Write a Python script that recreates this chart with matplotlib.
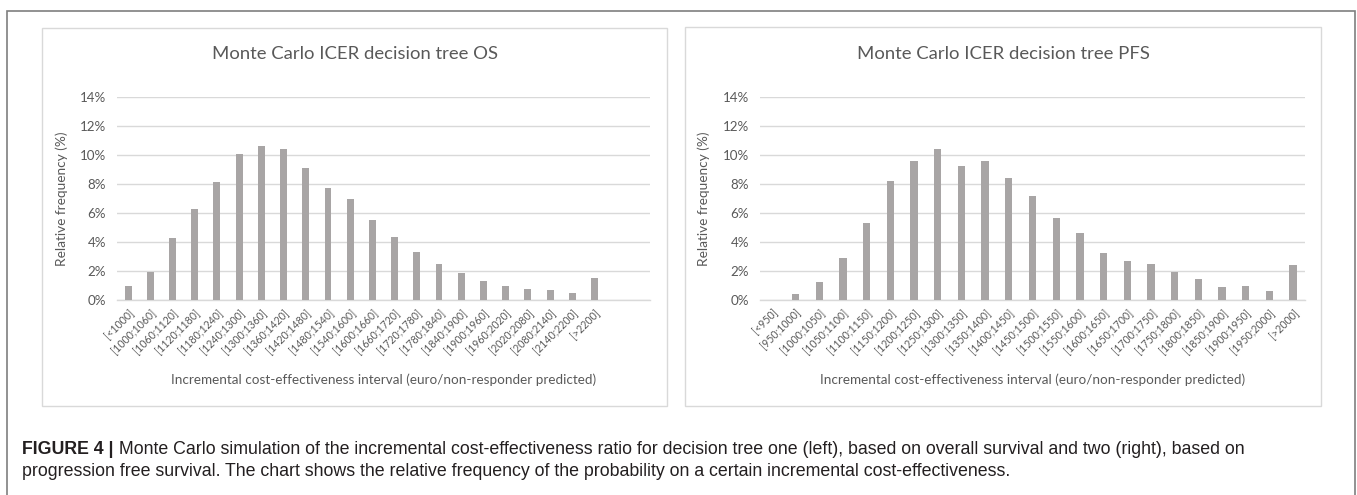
import numpy as np
import matplotlib.pyplot as plt
from matplotlib.patches import Rectangle
from matplotlib import font_manager

# --- data (relative frequency, %) ---
os_bins = ['[<1000]', '[1000;1060]', '[1060;1120]', '[1120;1180]', '[1180;1240]',
           '[1240;1300]', '[1300;1360]', '[1360;1420]', '[1420;1480]', '[1480;1540]',
           '[1540;1600]', '[1600;1660]', '[1660;1720]', '[1720;1780]', '[1780;1840]',
           '[1840;1900]', '[1900;1960]', '[1960;2020]', '[2020;2080]', '[2080;2140]',
           '[2140;2200]', '[>2200]']
os_freq = [0.97, 1.95, 4.3, 6.3, 8.16, 10.1, 10.65, 10.4, 9.1, 7.7, 6.95,
           5.5, 4.35, 3.3, 2.5, 1.85, 1.32, 0.97, 0.78, 0.72, 0.46, 1.5]

pfs_bins = ['[<950]', '[950;1000]', '[1000;1050]', '[1050;1100]', '[1100;1150]',
            '[1150;1200]', '[1200;1250]', '[1250;1300]', '[1300;1350]', '[1350;1400]',
            '[1400;1450]', '[1450;1500]', '[1500;1550]', '[1550;1600]', '[1600;1650]',
            '[1650;1700]', '[1700;1750]', '[1750;1800]', '[1800;1850]', '[1850;1900]',
            '[1900;1950]', '[1950;2000]', '[>2000]']
pfs_freq = [0.0, 0.4, 1.27, 2.92, 5.28, 8.23, 9.6, 10.44, 9.26, 9.56, 8.41,
            7.15, 5.66, 4.62, 3.26, 2.71, 2.46, 1.93, 1.43, 0.9, 0.97, 0.62, 2.39]

yticks = [0, 2, 4, 6, 8, 10, 12, 14]

titles = ['Monte Carlo ICER decision tree OS', 'Monte Carlo ICER decision tree PFS']
xlab = 'Incremental cost-effectiveness interval (euro/non-responder predicted)'
ylab = 'Relative frequency (%)'
caption_bold = 'FIGURE 4 |'
caption_1 = (' Monte Carlo simulation of the incremental cost-effectiveness ratio for decision tree '
             'one (left), based on overall survival and two (right), based on')
caption_2 = ('progression free survival. The chart shows the relative frequency of the probability '
             'on a certain incremental cost-effectiveness.')

W, H = 1357, 495
plt.rcParams['font.family'] = ['Lato', 'DejaVu Sans']

fig = plt.figure(figsize=(W / 100, H / 100), dpi=100)


def fx(x):
    return x / W


def fy(y):
    return 1 - y / H


txt_col = '#595959'
grid_col = '#d9d9d9'
bar_col = '#a8a5a5'

# outer frame of the figure page
fig.patches.append(Rectangle((fx(7), fy(500)), fx(1355) - fx(7), fy(11) - fy(500),
                             transform=fig.transFigure, fill=False,
                             edgecolor='#7f7f7f', linewidth=1.2))

# chart boxes
boxes = [(42, 28, 667, 406), (685, 27, 1321, 406)]
for x0, y0, x1, y1 in boxes:
    fig.patches.append(Rectangle((fx(x0), fy(y1)), fx(x1) - fx(x0), fy(y0) - fy(y1),
                                 transform=fig.transFigure, fill=False,
                                 edgecolor=grid_col, linewidth=1.0))

# plot areas (pixels): left, right, n slots
areas = [(117, 650, 24), (760, 1305, 23)]
data = [(os_bins, os_freq), (pfs_bins, pfs_freq)]
top, bottom = 97, 300

for i, ((x0, x1, nslots), (bins, freq)) in enumerate(zip(areas, data)):
    ax = fig.add_axes([fx(x0), fy(bottom), fx(x1) - fx(x0), fy(top) - fy(bottom)])
    pos = np.arange(len(bins))
    ax.bar(pos, freq, width=0.31, color=bar_col, zorder=3)
    ax.set_xlim(-0.5, nslots - 0.5)
    ax.set_ylim(0, 14)
    ax.set_yticks(yticks)
    ax.set_yticklabels([f'{t}%' for t in yticks], fontsize=9.6, color=txt_col)
    ax.set_xticks(pos)
    ax.set_xticklabels(bins, rotation=45, ha='right', va='top', rotation_mode='anchor',
                       fontsize=7.6, color=txt_col)
    ax.tick_params(axis='y', length=0, pad=8)
    ax.tick_params(axis='x', length=0, pad=5)
    ax.grid(axis='y', color=grid_col, linewidth=1.0, zorder=0)
    for s in ['top', 'right', 'left']:
        ax.spines[s].set_visible(False)
    ax.spines['bottom'].set_color(grid_col)
    ax.spines['bottom'].set_linewidth(1.0)
    ax.set_facecolor('none')

    ax.set_ylabel(ylab, fontsize=9.8, color=txt_col)
    ax.yaxis.set_label_coords((68 - x0) / (x1 - x0) if i == 0 else (710 - x0) / (x1 - x0), 0.5)
    ax.set_xlabel(xlab, fontsize=9.7, color=txt_col)
    ax.xaxis.set_label_coords(0.5, (bottom - 380) / (bottom - top))
    ax.xaxis.label.set_va('center')

    bx0, _, bx1, _ = boxes[i]
    fig.text(fx((bx0 + bx1) / 2), fy(54), titles[i], ha='center', va='center',
             fontsize=13.3, color=txt_col)

# caption
names = {f.name for f in font_manager.fontManager.ttflist}
if 'Liberation Sans Narrow' in names:
    cap_font, cap_size = 'Liberation Sans Narrow', 14.5
else:
    cap_font, cap_size = 'Liberation Sans', 12.8

t = fig.text(fx(22), fy(449), caption_bold, ha='left', va='center', fontsize=cap_size,
             fontweight='bold', family=cap_font, color='#231f20')
fig.canvas.draw()
bb = t.get_window_extent()
fig.text(bb.x1 / W, fy(449), caption_1, ha='left', va='center', fontsize=cap_size,
         family=cap_font, color='#231f20')
fig.text(fx(22), fy(472), caption_2, ha='left', va='center', fontsize=cap_size,
         family=cap_font, color='#231f20')

fig.savefig('out.png', dpi=100)
